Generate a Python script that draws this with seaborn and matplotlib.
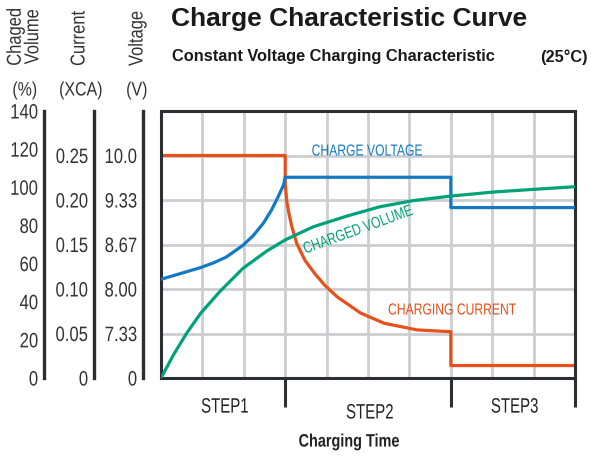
import numpy as np
import matplotlib
matplotlib.use('Agg')
import matplotlib.pyplot as plt
import matplotlib.transforms as mtrans
from matplotlib.patheffects import AbstractPathEffect
import pandas as pd
import seaborn as sns

# --- data (x = charging time in grid columns) ---
step_names = ['STEP1', 'STEP2', 'STEP3']
step_edges = [0, 3, 7, 10]

t_current = [0, 3, 3, 3.04, 3.09, 3.16, 3.28, 3.48, 3.72, 3.96, 4.26, 4.82, 5.39,
             6.19, 7, 7, 10]
current = [0.25, 0.25, 0.218, 0.198, 0.185, 0.170, 0.151, 0.132, 0.117, 0.104,
           0.091, 0.073, 0.0615, 0.054, 0.052, 0.014, 0.014]

t_voltage = [0, 0.46, 0.95, 1.26, 1.58, 1.98, 2.22, 2.47, 2.67, 2.83, 2.96, 3.0,
             7, 7, 10]
voltage = [8.146, 8.23, 8.32, 8.39, 8.48, 8.655, 8.795, 8.984, 9.184, 9.383,
           9.558, 9.674, 9.674, 9.22, 9.22]

t_volume = [0, 0.30, 0.62, 0.96, 1.42, 1.98, 2.55, 3.0, 3.68, 4.49, 5.29, 6.09,
            7.0, 8.03, 8.99, 10]
volume = [0, 12.1, 23.5, 34.0, 45.3, 57.5, 66.5, 72.4, 79.3, 84.9, 89.8, 93.0,
          95.4, 97.5, 98.9, 100.3]

vol_ticks = [0, 20, 40, 60, 80, 100, 120, 140]
vol_labels = ['0', '20', '40', '60', '80', '100', '120', '140']
cur_ticks = [0, 0.05, 0.10, 0.15, 0.20, 0.25, 0.30]
cur_labels = ['0', '0.05', '0.10', '0.15', '0.20', '0.25', '']
volt_ticks = [6.667, 7.333, 8.0, 8.667, 9.333, 10.0, 10.667]
volt_labels = ['0', '7.33', '8.00', '8.67', '9.33', '10.0', '']

RED = '#E8501A'
BLUE = '#1479C4'
GREEN = '#00A27A'
GRID = '#CCCED2'
DARK = '#2B2E33'
TXT = '#333333'

sns.set_style('white')
plt.rcParams['font.family'] = ['Liberation Sans', 'DejaVu Sans']


class Condense(AbstractPathEffect):
    # squeeze glyphs sideways, no narrow font is installed
    def __init__(self, sx=0.82, anchor='center'):
        super().__init__()
        self.sx = sx
        self.anchor = anchor

    def draw_path(self, renderer, gc, tpath, affine, rgbFace=None):
        v = tpath.vertices
        a = 0.0
        if len(v):
            if self.anchor == 'center':
                a = (v[:, 0].min() + v[:, 0].max()) / 2
            elif self.anchor == 'right':
                a = v[:, 0].max()
        t = mtrans.Affine2D().translate(-a, 0).scale(self.sx, 1).translate(a, 0)
        renderer.draw_path(gc, tpath, t + affine, rgbFace)


W, H = 591, 457


def fx(px):
    return px / W


def fy(py):
    return 1 - py / H


fig = plt.figure(figsize=(5.91, 4.57), dpi=100)
ax = fig.add_axes([fx(161), fy(378), (575 - 161) / W, (378 - 111) / H])
ax.set_xlim(0, 10)
ax.set_ylim(0, 0.30)
ax.set_xticks(range(11), minor=True)
ax.set_xticks(step_edges[1:])
ax.set_yticks(cur_ticks)
ax.grid(which='both', color=GRID, lw=2)
ax.set_axisbelow(True)
ax.tick_params(axis='x', which='major', length=21, width=2.2, color=DARK,
               labelbottom=False, bottom=True)
ax.tick_params(axis='x', which='minor', length=0)
ax.tick_params(axis='y', length=0, labelleft=False)
for s in ax.spines.values():
    s.set_color(DARK)
    s.set_linewidth(2.2)

axv = ax.twinx()
axv.set_ylim(volt_ticks[0], volt_ticks[-1])
axp = ax.twinx()
axp.set_ylim(0, 140)

df_c = pd.DataFrame({'t': t_current, 'v': current})
df_v = pd.DataFrame({'t': t_voltage, 'v': voltage})
df_p = pd.DataFrame({'t': t_volume, 'v': volume})
sns.lineplot(data=df_c, x='t', y='v', ax=ax, sort=False, estimator=None,
             color=RED, lw=2.3)
sns.lineplot(data=df_v, x='t', y='v', ax=axv, sort=False, estimator=None,
             color=BLUE, lw=2.3)
sns.lineplot(data=df_p, x='t', y='v', ax=axp, sort=False, estimator=None,
             color=GREEN, lw=2.3)
ax.set_xlabel('')
ax.set_ylabel('')
ax.set_xlim(0, 10)
for a in (axv, axp):
    a.axis('off')
    a.set_xlim(0, 10)

# curve labels
lab_fx = [Condense(0.76)]
ax.text(4.98, 0.255, 'CHARGE VOLTAGE', color=BLUE, fontsize=11.5,
        ha='center', va='center', path_effects=lab_fx)
ax.text(7.03, 0.0764, 'CHARGING CURRENT', color=RED, fontsize=11.5,
        ha='center', va='center', path_effects=lab_fx)
ax.text(4.76, 0.1665, 'CHARGED VOLUME', color=GREEN, fontsize=11.5,
        ha='center', va='center', rotation=20, rotation_mode='anchor',
        path_effects=lab_fx)

# step labels under the axis
blend = mtrans.blended_transform_factory(ax.transData, ax.transAxes)
step_y = [-0.109, -0.131, -0.109]
for i, name in enumerate(step_names):
    mid = (step_edges[i] + step_edges[i + 1]) / 2
    ax.text(mid + 0.05, step_y[i], name, transform=blend, fontsize=15,
            color='#222222', ha='center', va='center',
            path_effects=[Condense(0.72)])
ax.text(4.54, -0.24, 'Charging Time', transform=blend, fontsize=13,
        fontweight='bold', color='#222222', ha='center', va='center',
        path_effects=[Condense(0.8)])


# left scales
def make_scale(xpix, lim, ticks, labels):
    sc = fig.add_axes([fx(xpix), fy(378), 0.0001, (378 - 111) / H])
    sc.set_ylim(lim)
    sc.set_xticks([])
    sc.patch.set_visible(False)
    for k in ('top', 'right', 'bottom'):
        sc.spines[k].set_visible(False)
    sc.spines['left'].set_color(DARK)
    sc.spines['left'].set_linewidth(2.4)
    sc.set_yticks(ticks)
    tl = sc.set_yticklabels(labels, fontsize=15, color=TXT)
    for t in tl:
        t.set_path_effects([Condense(0.8, 'right')])
    sc.tick_params(axis='y', length=3, width=1.5, color=DARK, pad=1)
    return sc


make_scale(44, (0, 140), vol_ticks, vol_labels)
make_scale(94, (cur_ticks[0], cur_ticks[-1]), cur_ticks, cur_labels)
make_scale(143, (volt_ticks[0], volt_ticks[-1]), volt_ticks, volt_labels)

ax_fx = [Condense(0.82)]
fig.text(fx(24), fy(72), 'Chaged\nVolume', rotation=90, fontsize=14.5,
         color=TXT, ha='center', va='bottom', linespacing=0.9, path_effects=ax_fx)
fig.text(fx(79), fy(72), 'Current', rotation=90, fontsize=14.5,
         color=TXT, ha='center', va='bottom', path_effects=ax_fx)
fig.text(fx(137), fy(72), 'Voltage', rotation=90, fontsize=14.5,
         color=TXT, ha='center', va='bottom', path_effects=ax_fx)
fig.text(fx(25), fy(91), '(%)', fontsize=14, color=TXT,
         ha='center', va='center', path_effects=ax_fx)
fig.text(fx(81), fy(91), '(XCA)', fontsize=14, color=TXT,
         ha='center', va='center', path_effects=ax_fx)
fig.text(fx(137), fy(91), '(V)', fontsize=14, color=TXT,
         ha='center', va='center', path_effects=ax_fx)

# titles
fig.text(fx(171), fy(19), 'Charge Characteristic Curve', fontsize=19,
         fontweight='bold', color='#1a1a1a', ha='left', va='center')
fig.text(fx(172), fy(57), 'Constant Voltage Charging Characteristic', fontsize=11.8,
         fontweight='bold', color='#1a1a1a', ha='left', va='center')
fig.text(fx(588), fy(57), '(25°C)', fontsize=11.8, fontweight='bold',
         color='#1a1a1a', ha='right', va='center')

fig.savefig('out.png', dpi=100)
